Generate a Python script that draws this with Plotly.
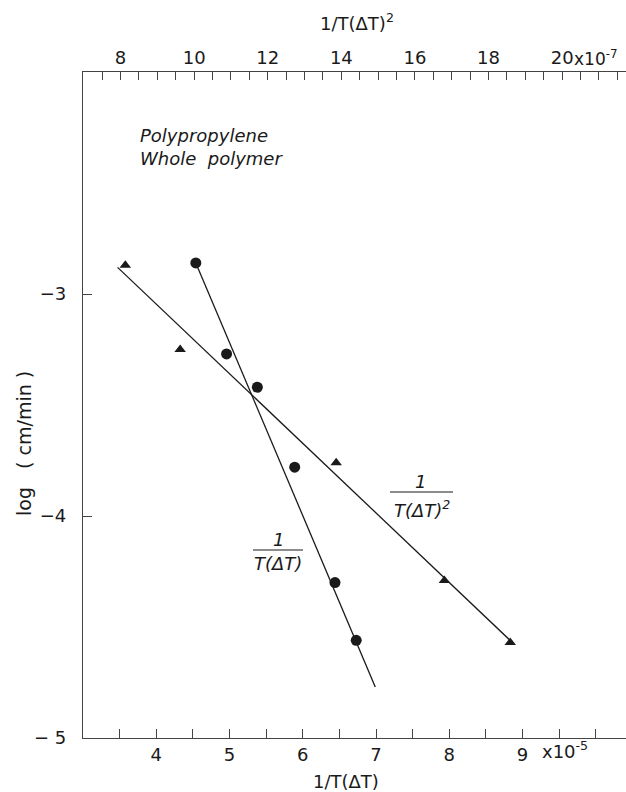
import numpy as np
import plotly.graph_objects as go

# ---- data ----
# circles: log rate vs 1/T(ΔT)  (units 1e-5, bottom axis)
circle_x = [4.54, 4.96, 5.38, 5.89, 6.44, 6.73]
circle_y = [-2.86, -3.27, -3.42, -3.78, -4.30, -4.56]
# triangles: log rate vs 1/T(ΔT)^2  (units 1e-7, top axis)
tri_x = [8.13, 9.62, 13.86, 16.80, 18.59]
tri_y = [-2.87, -3.25, -3.76, -4.29, -4.57]
# fitted straight lines
circle_fit_x = [4.54, 6.99]
circle_fit_y = [-2.86, -4.77]
tri_fit_x = [7.92, 18.68]
tri_fit_y = [-2.88, -4.575]

# tick values / labels
bottom_tickvals = [3.5, 4, 4.5, 5, 5.5, 6, 6.5, 7, 7.5, 8, 8.5, 9, 9.5, 10]
bottom_ticktext = ["", "4", "", "5", "", "6", "", "7", "", "8", "", "9", "", ""]
top_tickvals = [7 + 0.5 * i for i in range(30)]
top_labels = {8: "8", 10: "10", 12: "12", 14: "14", 16: "16", 18: "18", 20: "20"}
top_ticktext = [top_labels.get(v, "") if float(v).is_integer() else "" for v in top_tickvals]
y_tickvals = [-5, -4, -3]
y_ticktext = ["\u2212 5", "\u22124", "\u22123"]

# ---- layout geometry (pixels) ----
W, H = 626, 792
ML, MR, MT, MB = 83, 0, 72, 54
PW, PH = W - ML - MR, H - MT - MB


def px(x):
    return (x - ML) / PW


def py(y):
    return (H - MB - y) / PH


FONT = "DejaVu Sans"
INK = "#1a1a1a"
AX = "#444444"

fig = go.Figure()

fig.add_trace(go.Scatter(x=circle_fit_x, y=circle_fit_y, mode="lines",
                         line=dict(color=INK, width=1.3), xaxis="x", yaxis="y",
                         showlegend=False, hoverinfo="skip"))
fig.add_trace(go.Scatter(x=circle_x, y=circle_y, mode="markers",
                         marker=dict(symbol="circle", size=11, color=INK),
                         xaxis="x", yaxis="y", showlegend=False))
fig.add_trace(go.Scatter(x=tri_fit_x, y=tri_fit_y, mode="lines",
                         line=dict(color=INK, width=1.3), xaxis="x2", yaxis="y",
                         showlegend=False, hoverinfo="skip"))
fig.add_trace(go.Scatter(x=tri_x, y=tri_y, mode="markers",
                         marker=dict(symbol="triangle-up", size=10, color=INK),
                         xaxis="x2", yaxis="y", showlegend=False))

axis_common = dict(showgrid=False, zeroline=False, showline=True, linecolor=AX,
                   linewidth=1.2, ticks="inside", tickcolor=AX, tickwidth=1.1,
                   tickfont=dict(family=FONT, size=18, color=INK))

fig.update_layout(
    width=W, height=H,
    margin=dict(l=ML, r=MR, t=MT, b=MB),
    paper_bgcolor="white", plot_bgcolor="white",
    font=dict(family=FONT, color=INK),
    xaxis=dict(range=[3.0, 3.0 + PW / 73.25], tickmode="array",
               tickvals=bottom_tickvals, ticktext=bottom_ticktext, ticklen=9,
               **axis_common),
    xaxis2=dict(range=[6.98, 6.98 + PW / 36.8], overlaying="x", side="top",
                anchor="y", tickmode="array", tickvals=top_tickvals,
                ticktext=top_ticktext, ticklen=8, **axis_common),
    yaxis=dict(range=[-5, -2], tickmode="array", tickvals=y_tickvals,
               ticktext=y_ticktext, ticklen=9, ticklabelstandoff=12,
               **axis_common),
)

ann = []


def add(text, x, y, size=18, xanchor="center", angle=0, italic=False):
    ann.append(dict(text=("<i>%s</i>" % text) if italic else text,
                    x=px(x), y=py(y), xref="paper", yref="paper",
                    xanchor=xanchor, yanchor="middle", showarrow=False,
                    textangle=angle, font=dict(family=FONT, size=size, color=INK)))


add("1/T(\u0394T)", 346, 781)
add("1/T(\u0394T)<sup>2</sup>", 357, 22)
add("log   ( cm/min )", 24, 444, size=19, angle=-90)
add("x10<sup>-5</sup>", 540, 750, xanchor="left")
add("x10<sup>-7</sup>", 572, 58, size=17, xanchor="left")
add("Polypropylene", 138, 135, xanchor="left", italic=True)
add("Whole  polymer", 138, 158, xanchor="left", italic=True)
# fraction labels
add("1", 420, 481, italic=True)
add("T(\u0394T)<sup>2</sup>", 422, 509, italic=True)
add("1", 278, 539, italic=True)
add("T(\u0394T)", 278, 563, italic=True)
fig.update_layout(annotations=ann)

shapes = [
    dict(type="line", xref="paper", yref="paper", x0=px(390), x1=px(453),
         y0=py(492), y1=py(492), line=dict(color=INK, width=1.2)),
    dict(type="line", xref="paper", yref="paper", x0=px(253), x1=px(303),
         y0=py(550), y1=py(550), line=dict(color=INK, width=1.2)),
]
fig.update_layout(shapes=shapes)

fig.write_html(
    "out.html",
    config={"displayModeBar": False},
    post_script="document.body.style.margin='0px';document.body.style.overflow='hidden';",
)
